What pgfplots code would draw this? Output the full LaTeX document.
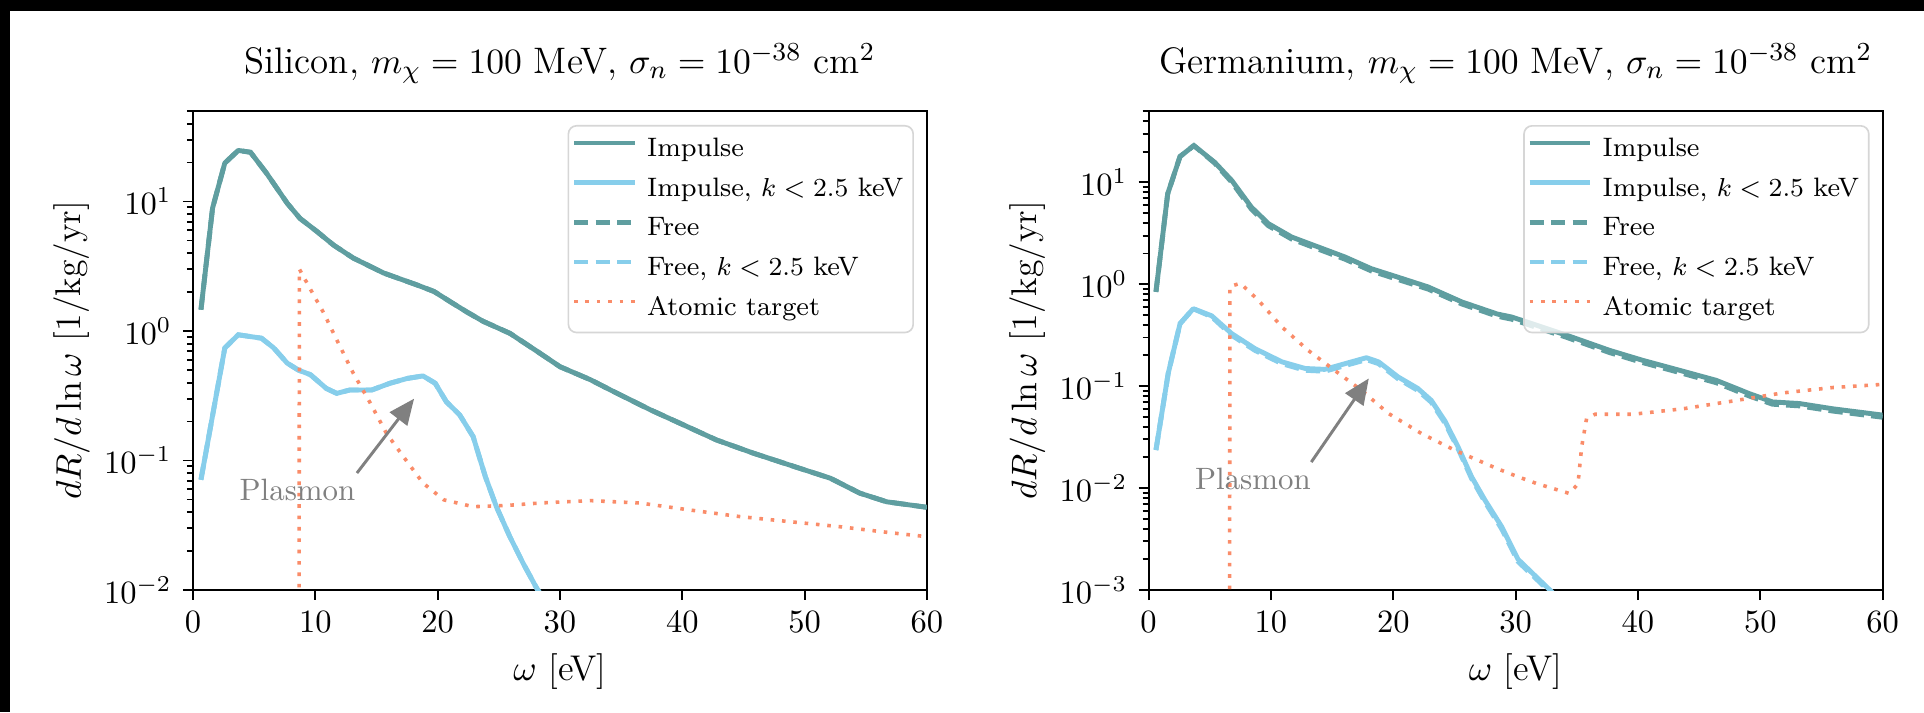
\documentclass[border=0pt]{standalone}
\usepackage{pgfplots}
\pgfplotsset{compat=1.18}
\usepackage{pgfplotstable}
\usetikzlibrary{arrows.meta}

% one drawing unit of the layout grid
\newlength\gridu
\setlength\gridu{0.30769pt}

\definecolor{impulse}{RGB}{95,158,160}
\definecolor{cutblue}{RGB}{135,206,235}
\definecolor{atomic}{RGB}{250,140,105}
\definecolor{annot}{RGB}{128,128,128}
\definecolor{legframe}{RGB}{214,214,214}

\tikzset{
  impulseline/.style={impulse, line width=1.5pt, line join=round},
  cutline/.style={cutblue, line width=1.5pt, line join=round},
  freeline/.style={impulse, line width=1.5pt, dash pattern=on 4.4pt off 2.2pt},
  freecutline/.style={cutblue, line width=1.5pt, dash pattern=on 4.4pt off 2.2pt},
  atomicline/.style={atomic, line width=1.1pt, dash pattern=on 1.1pt off 2.4pt},
}

% ---------------- Silicon ----------------
\pgfplotstableread{
w     r
0.65  1.46
1.6   8.9
2.6   19.8
3.7   24.8
4.7   24.0
6.0   16.6
7.7   9.7
8.75  7.4
10.1  5.9
11.5  4.6
13.1  3.66
15.6  2.8
18.3  2.27
19.7  2.02
21.0  1.69
22.4  1.40
23.7  1.19
25.9  0.96
28.1  0.70
30.0  0.53
32.5  0.42
34.4  0.34
37.4  0.246
39.8  0.194
42.8  0.144
45.8  0.114
49.6  0.087
52.1  0.073
54.5  0.056
56.7  0.048
60.0  0.0435
}\siImpulse

\pgfplotstableread{
w     r
0.65  0.071
2.6   0.74
3.7   0.935
5.6   0.88
6.6   0.74
7.7   0.565
8.6   0.50
9.6   0.46
10.9  0.36
11.75 0.33
12.8  0.35
14.6  0.35
16.1  0.395
17.5  0.43
18.8  0.45
19.8  0.395
20.7  0.285
21.8  0.225
22.9  0.153
23.9  0.075
24.8  0.044
25.9  0.0258
27.0  0.016
28.1  0.0103
28.5  0.009
}\siImpulseCut

\pgfplotstableread{
w     r
8.65  0.0001
8.7   3.0
9.6   2.1
10.7  1.37
11.75 0.855
13.1  0.473
14.5  0.277
15.8  0.163
17.2  0.107
18.8  0.067
20.5  0.0497
22.9  0.044
25.7  0.045
28.4  0.047
32.5  0.049
36.5  0.047
40.6  0.0415
44.7  0.0369
48.8  0.0337
52.9  0.0308
57.0  0.0277
60.0  0.0258
}\siAtomic

% ---------------- Germanium ----------------
\pgfplotstableread{
w     r
0.6   0.84
1.56  7.7
2.57  17.9
3.7   22.9
5.4   15.7
6.8   10.4
8.4   5.7
9.8   3.92
11.7  2.90
13.9  2.31
16.05 1.85
18.2  1.42
20.4  1.17
22.85 0.94
25.6  0.67
28.5  0.51
29.7  0.476
34.2  0.315
37.7  0.224
40.4  0.179
43.4  0.143
46.4  0.114
49.1  0.0845
51.0  0.070
53.2  0.0675
55.9  0.060
60.0  0.052
}\geImpulse

\pgfplotstableread{
w     r
0.6   0.84
1.56  7.7
2.57  17.9
3.7   22.9
5.4   15.4
6.8   10.0
8.4   5.45
9.8   3.74
11.7  2.77
13.9  2.20
16.05 1.76
18.2  1.35
20.4  1.11
22.85 0.895
25.6  0.64
28.5  0.485
29.7  0.453
34.2  0.300
37.7  0.213
40.4  0.170
43.4  0.136
46.4  0.108
49.1  0.080
51.0  0.0665
53.2  0.064
55.9  0.057
60.0  0.0495
}\geFree

\pgfplotstableread{
w     r
0.6   0.0236
1.6   0.133
2.57  0.41
3.65  0.575
5.15  0.49
6.8   0.327
8.7   0.233
10.9  0.173
12.8  0.149
14.4  0.146
16.05 0.166
17.8  0.19
18.8  0.173
20.4  0.123
22.0  0.095
23.1  0.0726
24.2  0.046
25.3  0.0253
26.4  0.0129
27.5  0.0076
28.85 0.0042
30.2  0.0020
32.8  0.0010
33.2  0.0009
}\geImpulseCut

\pgfplotstableread{
w     r
0.6   0.0236
1.6   0.133
2.57  0.41
3.65  0.575
5.15  0.48
6.8   0.315
8.7   0.224
10.9  0.166
12.8  0.143
14.4  0.140
16.05 0.159
17.8  0.182
18.8  0.166
20.4  0.118
22.0  0.091
23.1  0.0697
24.2  0.044
25.3  0.0243
26.4  0.0124
27.5  0.0073
28.85 0.0040
30.2  0.0019
32.8  0.00096
33.2  0.00086
}\geFreeCut

\pgfplotstableread{
w     r
6.6   0.00001
6.65  0.95
7.5   1.02
9.0   0.69
10.9  0.38
13.05 0.224
15.2  0.143
17.4  0.091
19.6  0.054
22.3  0.0343
25.0  0.0236
28.5  0.0155
30.2  0.0129
31.7  0.0111
34.4  0.00885
35.1  0.011
35.4  0.0254
35.8  0.048
36.5  0.053
39.6  0.053
43.7  0.060
47.8  0.0716
51.8  0.0857
55.9  0.0968
60.0  0.104
}\geAtomic

% common look of both panels
\pgfplotsset{
  every axis/.append style={
    scale only axis,
    width=734\gridu, height=479\gridu,
    xmin=0, xmax=60,
    ymax=50,
    xtick={0,10,...,60},
    tick align=outside,
    xtick pos=left, ytick pos=left,
    major tick length=10\gridu,
    minor tick length=6\gridu,
    every tick/.append style={black, line width=0.6pt},
    axis line style={line width=0.6pt},
    tick label style={font=\fontsize{10.3}{12}\selectfont},
    xlabel style={at={(axis description cs:0.5,-0.171)}, anchor=center,
      font=\fontsize{11}{13}\selectfont},
    ylabel style={at={(axis description cs:-0.165,0.5)}, anchor=center,
      font=\fontsize{11}{13}\selectfont},
    title style={at={(0.5,1)}, anchor=base, yshift=18\gridu,
      font=\fontsize{11.35}{14}\selectfont},
    legend cell align=left,
    legend style={
      at={(1,1)}, anchor=north east, xshift=-13\gridu, yshift=-14\gridu,
      draw=legframe, line width=0.5pt, rounded corners=2.5pt,
      fill=white, fill opacity=0.8, text opacity=1,
      font=\fontsize{8.2}{10}\selectfont,
      inner xsep=1pt, inner ysep=3.3pt,
      row sep=4pt, column sep=1pt,
      nodes={inner xsep=2pt, inner ysep=0pt, text height=6.2pt, text depth=2pt},
    },
  },
}

\begin{document}
\begin{tikzpicture}
\fill[white] (0,0) rectangle (1924\gridu,712\gridu);
\path[use as bounding box] (0,0) rectangle (1924\gridu,712\gridu);

% Silicon panel
\begin{axis}[at={(193\gridu,122\gridu)}, anchor=south west,
  ymode=log, ymin=1e-2,
  xlabel={$\omega$ [eV]},
  ylabel={$dR/d\ln\omega$ [1/kg/yr]},
  title={Silicon, $m_\chi = 100$ MeV, $\sigma_n = 10^{-38}$ cm$^2$},
  legend image code/.code={\draw[#1] (0pt,2.1pt) -- (18.7pt,2.1pt);}]
  \addplot[impulseline] table[x=w,y=r] {\siImpulse};
  \addlegendentry{Impulse}
  \addplot[cutline] table[x=w,y=r] {\siImpulseCut};
  \addlegendentry{Impulse, $k < 2.5$ keV}
  \addplot[freeline] table[x=w,y=r] {\siImpulse};
  \addlegendentry{Free}
  \addplot[freecutline] table[x=w,y=r] {\siImpulseCut};
  \addlegendentry{Free, $k < 2.5$ keV}
  \addplot[atomicline] table[x=w,y=r] {\siAtomic};
  \addlegendentry{Atomic target}
  \draw[annot, line width=0.9pt, -{Triangle[width=6.7pt,length=7.9pt]}]
    (axis cs:13.4,0.080) -- (axis cs:18.07,0.30);
  \node[annot, font=\fontsize{9.5}{11}\selectfont] at (axis cs:8.54,0.059) {Plasmon};
\end{axis}

% Germanium panel
\begin{axis}[at={(1148.6\gridu,122\gridu)}, anchor=south west,
  ymode=log, ymin=1e-3,
  xlabel={$\omega$ [eV]},
  ylabel={$dR/d\ln\omega$ [1/kg/yr]},
  title={Germanium, $m_\chi = 100$ MeV, $\sigma_n = 10^{-38}$ cm$^2$},
  legend image code/.code={\draw[#1] (0pt,2.1pt) -- (18.7pt,2.1pt);}]
  \addplot[impulseline] table[x=w,y=r] {\geImpulse};
  \addlegendentry{Impulse}
  \addplot[cutline] table[x=w,y=r] {\geImpulseCut};
  \addlegendentry{Impulse, $k < 2.5$ keV}
  \addplot[freeline] table[x=w,y=r] {\geFree};
  \addlegendentry{Free}
  \addplot[freecutline] table[x=w,y=r] {\geFreeCut};
  \addlegendentry{Free, $k < 2.5$ keV}
  \addplot[atomicline] table[x=w,y=r] {\geAtomic};
  \addlegendentry{Atomic target}
  \draw[annot, line width=0.9pt, -{Triangle[width=6.7pt,length=7.9pt]}]
    (axis cs:13.3,0.018) -- (axis cs:18.0,0.119);
  \node[annot, font=\fontsize{9.5}{11}\selectfont] at (axis cs:8.53,0.0124) {Plasmon};
\end{axis}

% dark edge along the top and left border
\fill[black] (0,701\gridu) rectangle (1924\gridu,712\gridu);
\fill[black] (0,0) rectangle (10\gridu,712\gridu);
\end{tikzpicture}
\end{document}
